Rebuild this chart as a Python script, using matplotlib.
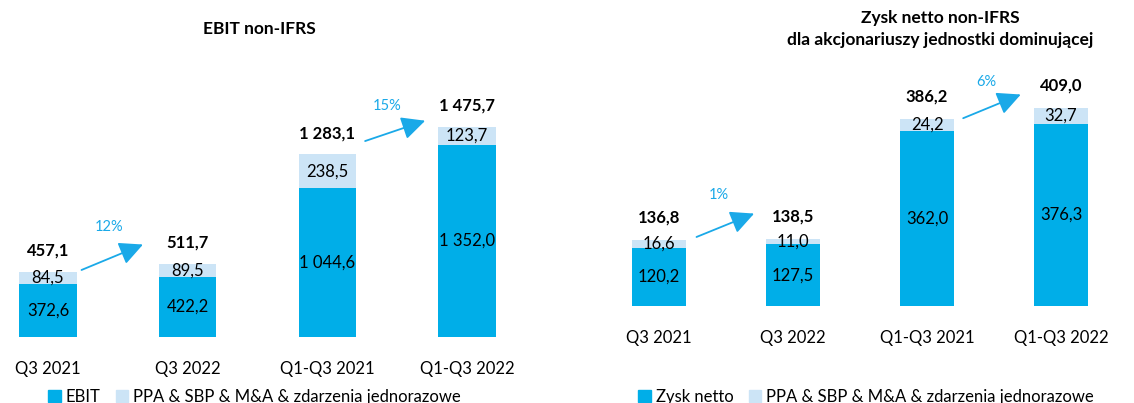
import matplotlib.pyplot as plt
from matplotlib.patches import Patch

plt.rcParams['font.family'] = ['Lato', 'DejaVu Sans']

categories = ['Q3 2021', 'Q3 2022', 'Q1-Q3 2021', 'Q1-Q3 2022']

# EBIT non-IFRS
ebit = [372.6, 422.2, 1044.6, 1352.0]
ebit_adj = [84.5, 89.5, 238.5, 123.7]
ebit_total = [457.1, 511.7, 1283.1, 1475.7]
ebit_growth = ['12%', '15%']

# Zysk netto non-IFRS
zysk = [120.2, 127.5, 362.0, 376.3]
zysk_adj = [16.6, 11.0, 24.2, 32.7]
zysk_total = [136.8, 138.5, 386.2, 409.0]
zysk_growth = ['1%', '6%']

dark = '#00aee8'
light = '#cce4f6'
arrow_col = '#1aa9e8'


def fmt(v):
    s = f'{v:,.1f}'
    return s.replace(',', ' ').replace('.', ',')


def panel(ax, main, adj, total, growth, width, tot_off, arrows, ylim):
    x = range(len(categories))
    ax.bar(x, main, width, color=dark)
    ax.bar(x, adj, width, bottom=main, color=light)
    for i in x:
        ax.text(i, main[i] / 2, fmt(main[i]), ha='center', va='center', fontsize=12)
        ax.text(i, main[i] + adj[i] / 2, fmt(adj[i]), ha='center', va='center', fontsize=12)
        ax.text(i, total[i] + tot_off, fmt(total[i]), ha='center', va='center',
                fontsize=12, fontweight='bold')
    for (xy0, xy1, lab), g in zip(arrows, growth):
        ax.annotate('', xy=xy1, xytext=xy0,
                    arrowprops=dict(arrowstyle='-|>,head_length=0.45,head_width=0.22',
                                    mutation_scale=32, lw=1.3,
                                    color=arrow_col, shrinkA=0, shrinkB=0))
        ax.text(lab[0], lab[1], g, ha='center', va='center', fontsize=10.5, color=arrow_col)
    ax.set_xticks(list(x))
    ax.set_xticklabels(categories, fontsize=12)
    ax.tick_params(axis='x', length=0, pad=17)
    ax.set_yticks([])
    ax.set_ylim(*ylim)
    for s in ax.spines.values():
        s.set_visible(False)


fig = plt.figure(figsize=(11.34, 4.03), dpi=100)
W, H = 1134, 403

# left panel: pixel box 0..540, baseline 337 px, top 20 px
ax1 = fig.add_axes([0, (H - 337) / H, 540 / W, (337 - 20) / H])
ax1.set_xlim(-48 / 139.7, (540 - 48) / 139.7)
panel(ax1, ebit, ebit_adj, ebit_total, ebit_growth, 0.41, 150,
      [((0.24, 471), (0.68, 650), (0.44, 773)),
       ((2.27, 1377), (2.70, 1520), (2.43, 1623))],
      (0, 317 / 0.1423))
fig.text(259 / W, 1 - 29 / H, 'EBIT non-IFRS', ha='center', va='center',
         fontsize=12.5, fontweight='bold')

# right panel: pixel box 580..1134, baseline 306 px
ax2 = fig.add_axes([580 / W, (H - 306) / H, 554 / W, (306 - 20) / H])
ax2.set_xlim(-79 / 134, (1134 - 659) / 134)
panel(ax2, zysk, zysk_adj, zysk_total, zysk_growth, 0.40, 47,
      [((0.28, 142.6), (0.71, 191), (0.45, 229)),
       ((2.27, 388), (2.70, 437), (2.44, 463))],
      (0, 286 / 0.484))
fig.text(940 / W, 1 - 29 / H, 'Zysk netto non-IFRS\ndla akcjonariuszy jednostki dominującej',
         ha='center', va='center', fontsize=12.5, fontweight='bold', linespacing=1.45)

leg_kw = dict(frameon=False, fontsize=12, handlelength=0.75, handleheight=0.75,
              handletextpad=0.3, columnspacing=0.9, ncol=2, borderpad=0)
fig.legend(handles=[Patch(color=dark, label='EBIT'),
                    Patch(color=light, label='PPA & SBP & M&A & zdarzenia jednorazowe')],
           loc='center left', bbox_to_anchor=(40 / W, 1 - 397 / H), **leg_kw)
fig.legend(handles=[Patch(color=dark, label='Zysk netto'),
                    Patch(color=light, label='PPA & SBP & M&A & zdarzenia jednorazowe')],
           loc='center left', bbox_to_anchor=(630 / W, 1 - 397 / H), **leg_kw)

fig.savefig('out.png', dpi=100)
